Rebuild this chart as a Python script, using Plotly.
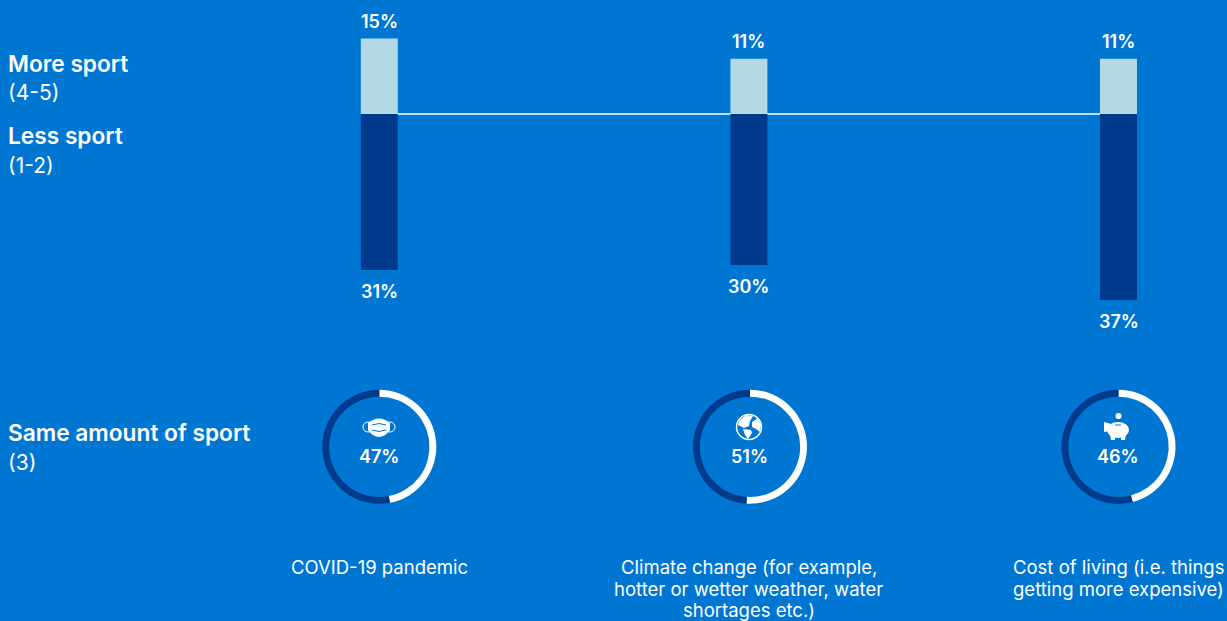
import plotly.graph_objects as go

W, H = 1227, 621
categories = ["COVID-19 pandemic", "Climate change", "Cost of living"]
category_lines = [["COVID-19 pandemic"],
                  ["Climate change (for example,", "hotter or wetter weather, water", "shortages etc.)"],
                  ["Cost of living (i.e. things", "getting more expensive)"]]
line_y = [566.5, 588.5, 610]
more_sport = [15, 11, 11]
less_sport = [31, 30, 37]
same_sport = [47, 51, 46]
FONT = "Inter"
BG, LIGHT, DARK, WHITE = "#0076D3", "#B5D8E5", "#003A8C", "#FFFFFF"

def px(x): return x / W
def py(y): return 1 - y / H

fig = go.Figure()
fig.add_bar(x=categories, y=more_sport, marker=dict(color=LIGHT, line_width=0), width=0.1, hoverinfo="skip")
fig.add_bar(x=categories, y=[-v for v in less_sport], marker=dict(color=DARK, line_width=0), width=0.1, hoverinfo="skip")

centers = [379.3, 750, 1118.5]
R = 57
cy = 446.8
for c, v in zip(centers, same_sport):
    fig.add_pie(values=[v, 100 - v], sort=False, direction="clockwise", rotation=0, hole=0.88,
                marker=dict(colors=[WHITE, DARK], line_width=0), textinfo="none", hoverinfo="skip",
                domain=dict(x=[px(c - R), px(c + R)], y=[py(cy + R), py(cy - R)]))

ann = []
def text(x, y, s, size=18, weight=400, anchor="center"):
    ann.append(dict(x=px(x), y=py(y), xref="paper", yref="paper", text=s, showarrow=False, xanchor=anchor,
                    yanchor="middle", align=anchor, font=dict(family=FONT, size=size, color=WHITE, weight=weight)))

text(6, 63, "More sport", 22.7, 600, "left")
text(6, 92, "(4-5)", 21, 400, "left")
text(6, 136, "Less sport", 22.7, 600, "left")
text(6, 165, "(1-2)", 21, 400, "left")
text(6, 432, "Same amount of sport", 22.7, 600, "left")
text(6, 462, "(3)", 21, 400, "left")
for c, v in zip(centers, same_sport):
    text(c - 0.5, 456, f"{v}%", 18, 600)

for cat, m, l in zip(categories, more_sport, less_sport):
    ann.append(dict(x=cat, y=m, xref="x", yref="y", text=f"{m}%", showarrow=False, yanchor="bottom", yshift=5,
                    font=dict(family=FONT, size=18, color=WHITE, weight=600)))
    ann.append(dict(x=cat, y=-l, xref="x", yref="y", text=f"{l}%", showarrow=False, yanchor="top", yshift=-9,
                    font=dict(family=FONT, size=18, color=WHITE, weight=600)))

for cat, lines in zip(categories, category_lines):
    for j, line in enumerate(lines):
        ann.append(dict(x=cat, y=py(line_y[j]), xref="x", yref="paper", text=line, showarrow=False,
                        xanchor="center", yanchor="middle", align="center",
                        font=dict(family=FONT, size=18.5, color=WHITE)))

shapes = [dict(type="line", layer="below", xref="x", yref="y", x0=categories[0], x1=categories[2], y0=0, y1=0,
               line=dict(color=WHITE, width=1.5))]
def path(pts, fill=WHITE, line=None, lw=1):
    out = []
    for p in pts:
        cmd, vals = p[0], p[1:]
        coords = [f"{px(vals[j]):.5f},{py(vals[j+1]):.5f}" for j in range(0, len(vals), 2)]
        out.append(cmd + " ".join(coords))
    shapes.append(dict(type="path", xref="paper", yref="paper", path=" ".join(out), fillcolor=fill,
                       line=dict(color=line or fill, width=lw if line else 0)))

def circle(x, y, rx, ry=None, fill=WHITE, line=None, lw=1):
    ry = ry or rx
    shapes.append(dict(type="circle", xref="paper", yref="paper", x0=px(x - rx), x1=px(x + rx),
                       y0=py(y + ry), y1=py(y - ry), fillcolor=fill,
                       line=dict(color=line or fill, width=lw if line else 0)))

NONE = "rgba(0,0,0,0)"
# mask icon
mx, my = 379, 427
circle(mx - 11, my, 5, 5, fill=NONE, line=WHITE, lw=1)
circle(mx + 11, my, 5, 5, fill=NONE, line=WHITE, lw=1)
path([("M", mx - 11, my - 4), ("Q", mx, my - 13, mx + 11, my - 4),
      ("L", mx + 11, my + 3), ("Q", mx + 6, my + 10, mx, my + 10),
      ("Q", mx - 6, my + 10, mx - 11, my + 3), ("Z",)])
path([("M", mx - 7, my - 2), ("Q", mx, my - 5, mx + 7, my - 2)], fill=NONE, line=BG, lw=1)
path([("M", mx - 7, my + 3), ("Q", mx, my + 6, mx + 7, my + 3)], fill=NONE, line=BG, lw=1)

# globe icon
gx, gy = 749, 427
circle(gx, gy, 12.5, fill=NONE, line=WHITE, lw=1.5)
path([("M", gx - 10, gy - 6), ("L", gx - 3, gy - 12), ("L", gx + 4, gy - 11), ("L", gx + 1, gy - 6),
      ("L", gx, gy - 1), ("L", gx - 5, gy + 1), ("L", gx - 11, gy - 2), ("Z",)])
path([("M", gx + 3, gy - 5), ("L", gx + 9, gy - 9), ("L", gx + 12, gy - 2), ("L", gx + 11, gy + 5),
      ("L", gx + 7, gy + 2), ("L", gx + 3, gy), ("Z",)])
path([("M", gx - 6, gy + 2), ("L", gx + 2, gy + 3), ("L", gx + 3, gy + 6), ("L", gx - 1, gy + 12),
      ("L", gx - 4, gy + 8), ("Z",)])

# piggy bank icon
bx, by = 1118, 430
circle(bx + 0.5, 416, 3)
circle(bx, by, 11, 8)
path([("M", bx - 14, by - 8), ("L", bx - 7, by - 6), ("L", bx - 8, by + 1), ("L", bx - 14, by + 2), ("Z",)])
path([("M", bx - 8, by + 4), ("L", bx - 3, by + 4), ("L", bx - 3, by + 10), ("L", bx - 7, by + 10), ("Z",)])
path([("M", bx + 3, by + 4), ("L", bx + 8, by + 4), ("L", bx + 7, by + 10), ("L", bx + 3, by + 10), ("Z",)])
path([("M", bx - 3, by - 5), ("L", bx + 3, by - 5)], fill=NONE, line=BG, lw=1)

y_scale = 5.03
fig.update_layout(
    width=W, height=H, autosize=False, barmode="relative", showlegend=False,
    paper_bgcolor=BG, plot_bgcolor=BG, margin=dict(l=0, r=0, t=0, b=0),
    xaxis=dict(visible=False, range=[-379.3 / 369.6, (W - 379.3) / 369.6], type="category",
               categoryorder="array", categoryarray=categories),
    yaxis=dict(visible=False, range=[-(H - 114) / y_scale, 114 / y_scale]),
    annotations=ann, shapes=shapes, font=dict(family=FONT),
)
fig.write_html("out.html", config=dict(displayModeBar=False),
               post_script="document.documentElement.style.overflow='hidden';document.body.style.margin='0';document.body.style.background='#0076D3';")
